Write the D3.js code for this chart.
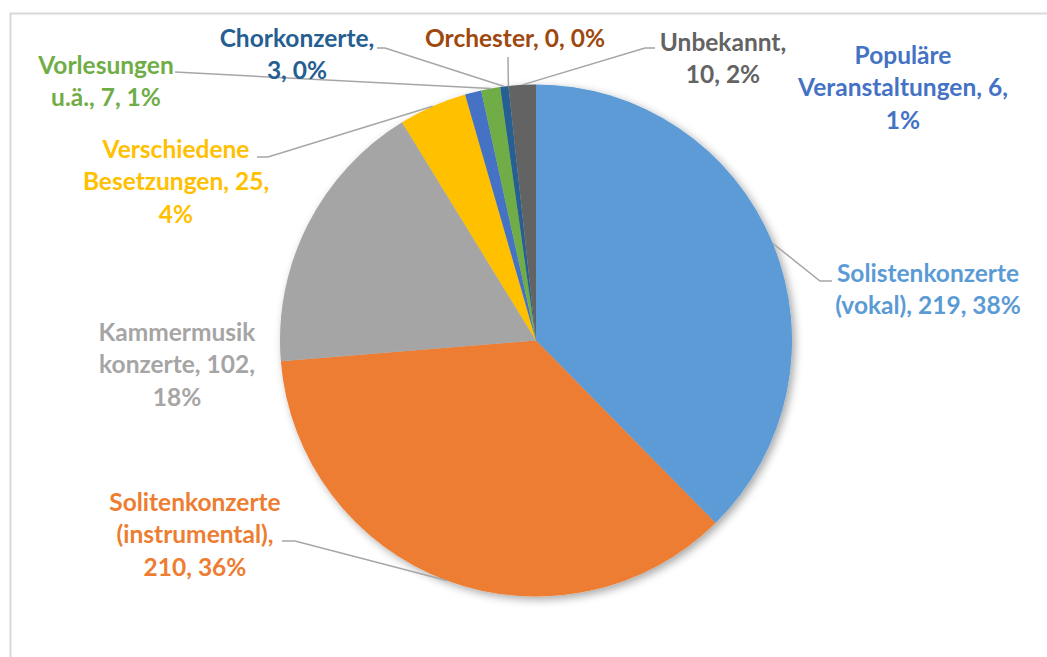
<!DOCTYPE html>
<html>
<head>
<meta charset="utf-8">
<script src="https://cdn.jsdelivr.net/npm/d3@7"></script>
<style>
  body { margin: 0; background: #fff; }
  text { font-family: Lato, "Open Sans", sans-serif; font-weight: bold; }
</style>
</head>
<body>
<div class="chart"></div>
<script>
// data
let categories = ["Solistenkonzerte (vokal)", "Solitenkonzerte (instrumental)", "Kammermusik konzerte",
  "Verschiedene Besetzungen", "Populäre Veranstaltungen", "Vorlesungen u.ä.", "Chorkonzerte", "Orchester", "Unbekannt"];
let values = [219, 210, 102, 25, 6, 7, 3, 0, 10];
let percents = ["38%", "36%", "18%", "4%", "1%", "1%", "0%", "0%", "2%"];
let colors = ["#5B9BD5", "#ED7D31", "#A5A5A5", "#FFC000", "#4472C4", "#70AD47", "#255E91", "#9E480E", "#636363"];

// label text lines (how Excel wrapped them)
let labelLines = [
  ["Solistenkonzerte", "(vokal), 219, 38%"],
  ["Solitenkonzerte", "(instrumental),", "210, 36%"],
  ["Kammermusik", "konzerte, 102,", "18%"],
  ["Verschiedene", "Besetzungen, 25,", "4%"],
  ["Populäre", "Veranstaltungen, 6,", "1%"],
  ["Vorlesungen", "u.ä., 7, 1%"],
  ["Chorkonzerte,", "3, 0%"],
  ["Orchester, 0, 0%"],
  ["Unbekannt,", "10, 2%"]
];

// layout: label centre x, first line centre y, leader start + elbow
let labelPos = [
  {x: 928, y: 273, leader: [[832, 281], [820, 281]]},
  {x: 195, y: 502, leader: [[282, 541], [295, 541]]},
  {x: 177, y: 332, leader: null},
  {x: 176, y: 149, leader: [[257, 157], [268, 157]]},
  {x: 903, y: 55, leader: null},
  {x: 106, y: 65, leader: [[175, 72]]},
  {x: 297, y: 38, leader: [[377, 48], [385, 48]]},
  {x: 515, y: 38, leader: [[508, 57]]},
  {x: 723, y: 42, leader: [[655, 48], [645, 48]]}
];

let width = 1047, height = 657;
let cx = 536, cy = 340.5, radius = 256;
let lineH = 32.5;

const svg = d3.select(".chart")
  .append("svg")
  .attr("width", width)
  .attr("height", height);

let defs = svg.append("defs");
defs.append("filter")
  .attr("id", "shadow")
  .attr("x", "-20%").attr("y", "-20%").attr("width", "140%").attr("height", "140%")
  .append("feDropShadow")
  .attr("dx", 3).attr("dy", 3)
  .attr("stdDeviation", 4)
  .attr("flood-color", "#000")
  .attr("flood-opacity", 0.35);

// chart area border
svg.append("rect")
  .attr("x", 10.5).attr("y", 13.5)
  .attr("width", width + 20).attr("height", height + 20)
  .attr("fill", "none")
  .attr("stroke", "#D9D9D9")
  .attr("stroke-width", 2);

let data = categories.map((c, i) => ({name: c, value: values[i], pct: percents[i], color: colors[i], lines: labelLines[i], pos: labelPos[i]}));

let pie = d3.pie().sort(null).value(d => d.value);
let arcs = pie(data);
let arc = d3.arc().innerRadius(0).outerRadius(radius);

let g = svg.append("g").attr("transform", "translate(" + cx + "," + cy + ")");

g.append("g")
  .attr("filter", "url(#shadow)")
  .selectAll("path")
  .data(arcs)
  .enter()
  .append("path")
  .attr("d", arc)
  .attr("fill", d => d.data.color);

// leader lines
let line = d3.line();
svg.append("g")
  .selectAll("path")
  .data(arcs.filter(d => d.data.pos.leader))
  .enter()
  .append("path")
  .attr("d", function (d) {
    let mid = (d.startAngle + d.endAngle) / 2;
    let end = [cx + radius * Math.sin(mid), cy - radius * Math.cos(mid)];
    return line(d.data.pos.leader.concat([end]));
  })
  .attr("fill", "none")
  .attr("stroke", "#A6A6A6")
  .attr("stroke-width", 1.5);

// labels
let labels = svg.append("g")
  .selectAll("text")
  .data(data)
  .enter()
  .append("text")
  .attr("text-anchor", "middle")
  .attr("fill", d => d.color)
  .style("font-size", "24.5px");

labels.selectAll("tspan")
  .data(d => d.lines.map((l, j) => ({t: l, x: d.pos.x, y: d.pos.y + j * lineH})))
  .enter()
  .append("tspan")
  .attr("x", d => d.x)
  .attr("y", d => d.y)
  .attr("dy", "0.36em")
  .text(d => d.t);
</script>
</body>
</html>
